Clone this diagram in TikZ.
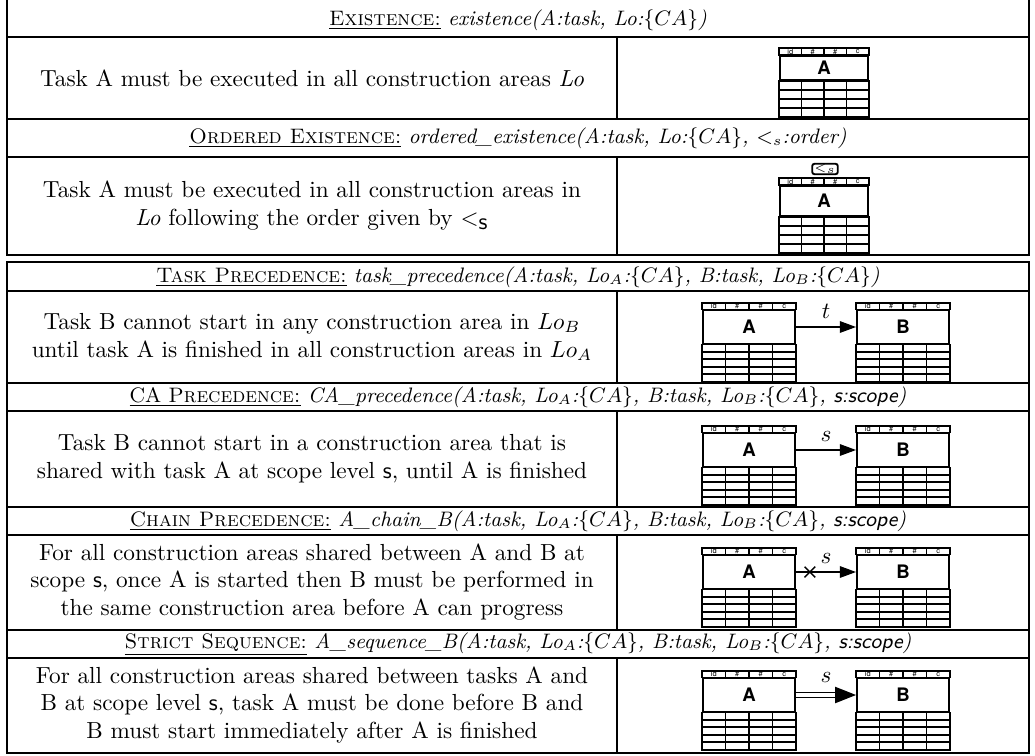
\documentclass[tikz,border=0pt]{standalone}
\usepackage{fontspec}
\newfontfamily\boxfont{TeX Gyre Heros}
\usetikzlibrary{arrows.meta,calc}

\tikzset{
  rule/.style={line width=0.45pt},
  boxline/.style={line width=0.8pt},
  header/.style={font=\small},
  taskname/.style={draw, boxline, inner sep=0pt, minimum width=39.6pt,
    minimum height=14.2pt, font=\boxfont\bfseries\fontsize{8}{9}\selectfont},
  idlabel/.style={inner sep=0pt, font=\boxfont\fontsize{3.2}{3.5}\selectfont},
  flow/.style={-{Triangle[length=7pt,width=5pt]}, line width=0.6pt},
}

% task box: name region as node, id row above, grid below
\newcommand{\taskbox}[6][]{%
  \node[taskname,#1] (#2) at (#3) {#4};
  \draw[boxline] (#2.north west) rectangle ([yshift=3pt]#2.north east);
  \foreach \f/\t in {0.125/id,0.375/\#,0.625/\#,0.875/c}
    \node[idlabel] at ($(#2.north west)!\f!(#2.north east)+(0pt,1.5pt)$) {\t};
  \foreach \f in {0.25,0.5,0.75}
    \draw[boxline] ($(#2.north west)!\f!(#2.north east)$) -- ++(0pt,3pt);
  \draw[boxline] (#2.south west) rectangle ([yshift=-#5*#6]#2.south east);
  \foreach \f in {0.25,0.5,0.75}
    \draw[boxline] ($(#2.south west)!\f!(#2.south east)$) -- ++(0pt,-#5*#6);
  \foreach \r in {1,...,#5}
    \draw[boxline] ([yshift=-\r*#6]#2.south west) -- ([yshift=-\r*#6]#2.south east);
}

\begin{document}
\begin{tikzpicture}[x=0.43pt,y=-0.43pt]
\useasboundingbox (0,0) rectangle (1035,756);

% first table
\draw[rule] (7,0) -- (7,255) -- (1029,255) -- (1029,0);
\draw[rule] (7,37) -- (1029,37);
\draw[rule] (7,119) -- (1029,119);
\draw[rule] (7,157) -- (1029,157);
\draw[rule] (617,37) -- (617,119);
\draw[rule] (617,157) -- (617,255);

\node[header] (hexist) at (518,20) {\underline{\textsc{Existence:}} \emph{existence(A:task, Lo:$\{CA\}$)}};
\node[align=center] (texist) at (312,78) {Task A must be executed in all construction areas \emph{Lo}};
\taskbox[minimum width=37.8pt, minimum height=10.3pt]{exA}{824,68}{A}{4}{3.9pt}

\node[header] (hord) at (518,138) {\underline{\textsc{Ordered Existence:}} \emph{ordered\_existence(A:task, Lo:$\{CA\}$, $<_s$:order)}};
\node[align=center] (tord) at (312,206) {Task A must be executed in all construction areas in\\
  \emph{Lo} following the order given by $<_{\textsf{s}}$};
\taskbox[minimum width=37.8pt, minimum height=12.9pt]{ordA}{824,201}{A}{4}{3.9pt}
\node[draw, boxline, inner sep=0pt, minimum width=11pt, minimum height=4.5pt,
  rounded corners=1pt, font=\fontsize{4.5}{4.5}\selectfont] (ordtab) at (825,169) {$<_s$};

% second table
\draw[rule] (7,262) -- (1029,262) -- (1029,753) -- (7,753) -- cycle;
\foreach \y in {291,383,411,507,535,630,658}
  \draw[rule] (7,\y) -- (1029,\y);
\foreach \a/\b in {291/383,411/507,535/630,658/753}
  \draw[rule] (617,\a) -- (617,\b);

\node[header] (htask) at (518,277) {\underline{\textsc{Task Precedence:}} \emph{task\_precedence(A:task, Lo$_A$:$\{CA\}$, B:task, Lo$_B$:$\{CA\}$)}};
\node[align=center] (ttask) at (312,337) {Task B cannot start in any construction area in $Lo_B$\\
  until task A is finished in all construction areas in $Lo_A$};
\taskbox{tA}{749,327}{A}{5}{3.2pt}
\taskbox{tB}{903,327}{B}{5}{3.2pt}
\draw[flow] (tA) -- node[above] {$t$} (tB);

\node[header] (hca) at (518,397) {\underline{CA \textsc{Precedence:}} \emph{CA\_precedence(A:task, Lo$_A$:$\{CA\}$, B:task, Lo$_B$:$\{CA\}$, \textsf{s:scope})}};
\node[align=center] (tca) at (312,459) {Task B cannot start in a construction area that is\\
  shared with task A at scope level \textsf{s}, until A is finished};
\taskbox{cA}{749,450}{A}{5}{3.2pt}
\taskbox{cB}{903,450}{B}{5}{3.2pt}
\draw[flow] (cA) -- node[above] {$s$} (cB);

\node[header] (hchain) at (518,521) {\underline{\textsc{Chain Precedence:}} \emph{A\_chain\_B(A:task, Lo$_A$:$\{CA\}$, B:task, Lo$_B$:$\{CA\}$, \textsf{s:scope})}};
\node[align=center] (tchain) at (312,582) {For all construction areas shared between A and B at\\
  scope \textsf{s}, once A is started then B must be performed in\\
  the same construction area before A can progress};
\taskbox{chA}{749,572}{A}{5}{3.2pt}
\taskbox{chB}{903,572}{B}{5}{3.2pt}
\draw[flow] (chA) -- node[above] {$s$} (chB);
\coordinate (chx) at ([xshift=6pt]chA.east);
\draw[line width=0.6pt] ([shift={(-2.3pt,-2.3pt)}]chx) -- ([shift={(2.3pt,2.3pt)}]chx)
  ([shift={(-2.3pt,2.3pt)}]chx) -- ([shift={(2.3pt,-2.3pt)}]chx);

\node[header] (hseq) at (518,644) {\underline{\textsc{Strict Sequence:}} \emph{A\_sequence\_B(A:task, Lo$_A$:$\{CA\}$, B:task, Lo$_B$:$\{CA\}$, \textsf{s:scope})}};
\node[align=center] (tseq) at (312,705) {For all construction areas shared between tasks A and\\
  B at scope level \textsf{s}, task A must be done before B and\\
  B must start immediately after A is finished};
\taskbox{sA}{749,695}{A}{5}{3.2pt}
\taskbox{sB}{903,695}{B}{5}{3.2pt}
\draw[double, double distance=1.3pt, line width=0.5pt,
  -{Triangle[length=9pt,width=7pt]}] (sA) -- node[above=2pt] {$s$} (sB);
\end{tikzpicture}
\end{document}
